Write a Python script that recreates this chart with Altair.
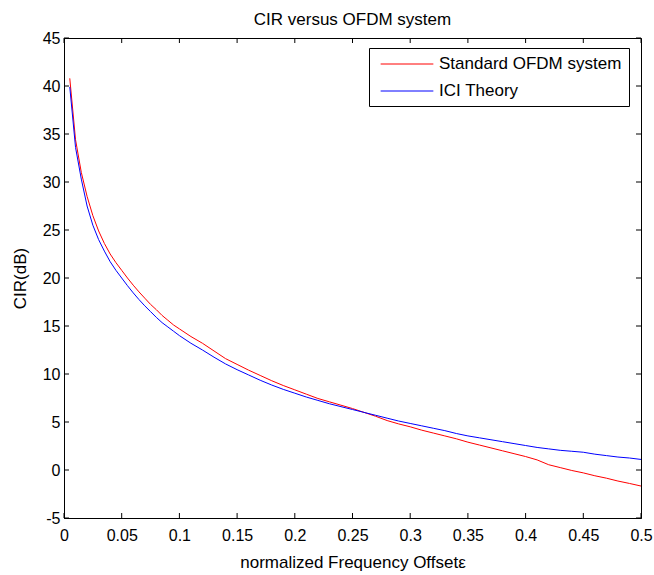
import altair as alt
import pandas as pd

# ---- data ----
x_vals = [0.005, 0.01, 0.015, 0.02, 0.025, 0.03, 0.035, 0.04, 0.045, 0.05,
          0.055, 0.06, 0.065, 0.07, 0.075, 0.08, 0.085, 0.09, 0.095, 0.1,
          0.11, 0.12, 0.13, 0.14, 0.15, 0.16, 0.17, 0.18, 0.19, 0.2,
          0.21, 0.22, 0.23, 0.24, 0.25, 0.26, 0.27, 0.28, 0.29, 0.3,
          0.31, 0.32, 0.33, 0.34, 0.35, 0.36, 0.37, 0.38, 0.39, 0.4,
          0.41, 0.42, 0.43, 0.44, 0.45, 0.46, 0.47, 0.48, 0.49, 0.5]

standard_ofdm = [40.8, 34.4, 31.0, 28.5, 26.5, 24.9, 23.6, 22.5, 21.6, 20.8,
                 20.0, 19.25, 18.55, 17.9, 17.25, 16.7, 16.1, 15.6, 15.1, 14.7,
                 13.9, 13.2, 12.4, 11.6, 11.0, 10.4, 9.85, 9.3, 8.8, 8.35,
                 7.9, 7.45, 7.1, 6.75, 6.4, 6.0, 5.6, 5.15, 4.8, 4.5,
                 4.15, 3.85, 3.55, 3.25, 2.9, 2.6, 2.3, 2.0, 1.7, 1.4,
                 1.05, 0.55, 0.25, -0.05, -0.3, -0.6, -0.85, -1.15, -1.4, -1.67]

ici_theory = [39.9, 33.6, 30.3, 27.5, 25.5, 24.0, 22.8, 21.7, 20.8, 20.0,
              19.2, 18.45, 17.75, 17.1, 16.5, 15.9, 15.35, 14.9, 14.45, 14.0,
              13.2, 12.5, 11.75, 11.05, 10.45, 9.9, 9.35, 8.85, 8.4, 8.0,
              7.6, 7.25, 6.9, 6.6, 6.3, 6.0, 5.7, 5.4, 5.1, 4.85,
              4.6, 4.35, 4.1, 3.8, 3.55, 3.35, 3.15, 2.95, 2.75, 2.55,
              2.35, 2.2, 2.05, 1.95, 1.85, 1.65, 1.5, 1.35, 1.25, 1.1]

series_names = ["Standard OFDM system", "ICI Theory"]
series_colors = ["#ff0000", "#0000ff"]

x_ticks = [0, 0.05, 0.1, 0.15, 0.2, 0.25, 0.3, 0.35, 0.4, 0.45, 0.5]
y_ticks = [-5, 0, 5, 10, 15, 20, 25, 30, 35, 40, 45]

n = len(x_vals)
df = pd.DataFrame({
    "x": x_vals + x_vals,
    "y": standard_ofdm + ici_theory,
    "series": [series_names[0]] * n + [series_names[1]] * n,
})
xt = pd.DataFrame({"x": x_ticks})
yt = pd.DataFrame({"y": y_ticks})

W, H = 577, 480
FONT = "Liberation Sans"
TL = 5  # inward tick length

xscale = alt.Scale(domain=[0, 0.5], nice=False, zero=False)
yscale = alt.Scale(domain=[-5, 45], nice=False, zero=False)

x_axis = alt.Axis(values=x_ticks, labelExpr="toString(datum.value)",
                  labelFlush=False, labelOverlap=False,
                  title="normalized Frequency Offsetε",
                  titleX=W / 2, titleY=49, titleBaseline="alphabetic",
                  labelPadding=9)
y_axis = alt.Axis(values=y_ticks, labelExpr="toString(datum.value)",
                  labelFlush=False, labelOverlap=False,
                  title="CIR(dB)",
                  titleX=-44, titleY=H / 2, titleBaseline="middle",
                  titleAngle=270, labelPadding=4)

X = alt.X("x:Q", scale=xscale, axis=x_axis, title="normalized Frequency Offsetε")
Y = alt.Y("y:Q", scale=yscale, axis=y_axis, title="CIR(dB)")

lines = alt.Chart(df).mark_line(strokeWidth=1, clip=True).encode(
    x=X, y=Y,
    color=alt.Color("series:N",
                    scale=alt.Scale(domain=series_names, range=series_colors),
                    sort=series_names,
                    legend=alt.Legend(title=None, orient="none",
                                      legendX=305, legendY=10,
                                      strokeColor="black", fillColor="white",
                                      padding=7,
                                      symbolType="M-3.1,0H3.1",
                                      symbolSize=289, symbolStrokeWidth=1,
                                      symbolOffset=22,
                                      labelFont=FONT, labelFontSize=17,
                                      labelColor="black", labelOffset=23,
                                      labelLimit=400, rowPadding=10)),
)

bottom_ticks = alt.Chart(xt).mark_rule(color="black", strokeWidth=1).encode(
    x=X, y=alt.value(H), y2=alt.value(H - TL))
top_ticks = alt.Chart(xt).mark_rule(color="black", strokeWidth=1).encode(
    x=X, y=alt.value(0), y2=alt.value(TL))
left_ticks = alt.Chart(yt).mark_rule(color="black", strokeWidth=1).encode(
    y=Y, x=alt.value(0), x2=alt.value(TL))
right_ticks = alt.Chart(yt).mark_rule(color="black", strokeWidth=1).encode(
    y=Y, x=alt.value(W), x2=alt.value(W - TL))

chart = alt.layer(
    lines, bottom_ticks, top_ticks, left_ticks, right_ticks
).properties(
    width=W, height=H,
    title=alt.TitleParams("CIR versus OFDM system", font=FONT, fontSize=17,
                          fontWeight="normal", color="black",
                          baseline="alphabetic", offset=6, dy=18),
    padding={"left": 64, "top": 38, "right": 13, "bottom": 57},
    autosize=alt.AutoSizeParams(type="none"),
).configure_view(
    stroke="black", strokeWidth=1
).configure_axis(
    domainColor="black", domainWidth=1, grid=False, ticks=False, tickSize=0,
    labelFont=FONT, labelFontSize=16, labelColor="black",
    titleFont=FONT, titleFontSize=17, titleColor="black",
    titleFontWeight="normal",
)

chart.save("out.html", embed_options={"renderer": "svg", "actions": False})
